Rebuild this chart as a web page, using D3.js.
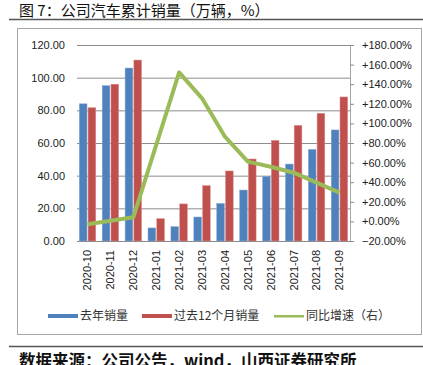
<!DOCTYPE html>
<html>
<head>
<meta charset="utf-8">
<script src="https://cdn.jsdelivr.net/npm/d3@7"></script>
<style>
  body { margin: 0; background: #fff; }
  svg { display: block; font-family: "Liberation Sans", Arial, sans-serif; }
  .cjk { font-family: "Noto Sans CJK SC", sans-serif; }
</style>
</head>
<body>
<div id="chart"></div>
<script>
// months on the x axis
const months = ["2020-10","2020-11","2020-12","2021-01","2021-02","2021-03",
                "2021-04","2021-05","2021-06","2021-07","2021-08","2021-09"];
// 去年销量 (万辆)
const lastYear = [84, 95.1, 105.9, 8, 8.8, 14.7, 23, 31.2, 39.6, 47.1, 56.1, 68];
// 过去12个月销量 (万辆)
const past12 = [81.6, 96, 110.8, 13.7, 22.7, 33.9, 42.9, 50.2, 61.6, 70.8, 78.2, 88.2];
// 同比增速 (%)
const growth = [-3, 0.7, 4.2, 78, 152, 125.6, 86.4, 61, 55.8, 49.7, 39.5, 29.3];

const leftTicks = [0, 20, 40, 60, 80, 100, 120];
const rightTicks = [-20, 0, 20, 40, 60, 80, 100, 120, 140, 160, 180];

const width = 423, height = 365;
const plot = {left: 77, right: 350, top: 45, bottom: 241};

const svg = d3.select("#chart")
  .append("svg")
    .attr("width", width)
    .attr("height", height);

// title + rules + frame
svg.append("text")
  .attr("class", "cjk")
  .attr("x", 19)
  .attr("y", 15.5)
  .attr("font-size", 15)
  .attr("fill", "#111")
  .text("图 7：公司汽车累计销量（万辆，%）");

svg.append("line")
  .attr("x1", 9).attr("x2", width)
  .attr("y1", 19.5).attr("y2", 19.5)
  .attr("stroke", "#555").attr("stroke-width", 1.5);

svg.append("rect")
  .attr("x", 17.5).attr("y", 28.5)
  .attr("width", 404).attr("height", 306)
  .attr("fill", "none")
  .attr("stroke", "#a6a6a6");

svg.append("line")
  .attr("x1", 9).attr("x2", width)
  .attr("y1", 346.5).attr("y2", 346.5)
  .attr("stroke", "#555").attr("stroke-width", 1.5);

svg.append("text")
  .attr("class", "cjk")
  .attr("x", 19)
  .attr("y", 367)
  .attr("font-size", 16.5)
  .attr("font-weight", "bold")
  .attr("fill", "#111")
  .text("数据来源：公司公告，wind，山西证券研究所");

// scales
const x0 = d3.scaleBand()
  .domain(months)
  .range([plot.left, plot.right])
  .paddingInner(0.28)
  .paddingOuter(0.1);

const x1 = d3.scaleBand()
  .domain(["lastYear", "past12"])
  .range([0, x0.bandwidth()])
  .paddingInner(0.12);

const yL = d3.scaleLinear().domain([0, 120]).range([plot.bottom, plot.top]);
const yR = d3.scaleLinear().domain([-20, 180]).range([plot.bottom, plot.top]);

// gridlines + left axis
const leftAxis = svg.append("g")
  .attr("transform", `translate(${plot.left},0)`)
  .call(d3.axisLeft(yL)
    .tickValues(leftTicks)
    .tickFormat(d3.format(".2f"))
    .tickSize(-(plot.right - plot.left))
    .tickPadding(12));
leftAxis.select(".domain").remove();
leftAxis.selectAll(".tick line").attr("stroke", "#8c8c8c");
leftAxis.selectAll(".tick text")
  .attr("font-size", 11)
  .attr("fill", "#222");

// right axis
const rightAxis = svg.append("g")
  .attr("transform", `translate(${plot.right},0)`)
  .call(d3.axisRight(yR)
    .tickValues(rightTicks)
    .tickFormat(d => (d >= 0 ? "+" : "") + d3.format(".2f")(d) + "%")
    .tickSize(4)
    .tickSizeOuter(0)
    .tickPadding(8));
rightAxis.select(".domain").attr("stroke", "#a6a6a6");
rightAxis.selectAll(".tick line").attr("stroke", "#8c8c8c");
rightAxis.selectAll(".tick text")
  .attr("font-size", 11)
  .attr("fill", "#222");

// bars
const groups = svg.append("g")
  .selectAll("g")
  .data(months)
  .enter()
  .append("g")
    .attr("transform", d => `translate(${x0(d)},0)`);

groups.append("rect")
  .attr("x", x1("lastYear"))
  .attr("y", (d, i) => yL(lastYear[i]))
  .attr("width", x1.bandwidth())
  .attr("height", (d, i) => yL(0) - yL(lastYear[i]))
  .attr("fill", "#4f81bd")
  .attr("stroke", "#8eaad6")
  .attr("stroke-width", 0.5);

groups.append("rect")
  .attr("x", x1("past12"))
  .attr("y", (d, i) => yL(past12[i]))
  .attr("width", x1.bandwidth())
  .attr("height", (d, i) => yL(0) - yL(past12[i]))
  .attr("fill", "#c0504d")
  .attr("stroke", "#dc9593")
  .attr("stroke-width", 0.5);

// bottom axis
const bottomAxis = svg.append("g")
  .attr("transform", `translate(0,${plot.bottom})`)
  .call(d3.axisBottom(x0).tickSize(0).tickSizeOuter(0).tickPadding(0));
bottomAxis.select(".domain").attr("stroke", "#8c8c8c");
bottomAxis.selectAll(".tick text")
  .attr("font-size", 11)
  .attr("fill", "#222")
  .attr("transform", "rotate(-90)")
  .attr("text-anchor", "end")
  .attr("dx", "-9")
  .attr("dy", "0.35em")
  .attr("y", 0);

// growth line
const line = d3.line()
  .x((d, i) => x0(months[i]) + x0.bandwidth() / 2)
  .y(d => yR(d));

svg.append("path")
  .datum(growth)
  .attr("d", line)
  .attr("fill", "none")
  .attr("stroke", "#9bbb59")
  .attr("stroke-width", 4)
  .attr("stroke-linejoin", "round");

// legend
const legendItems = [
  {label: "去年销量", color: "#4f81bd", x: 48, type: "bar"},
  {label: "过去12个月销量", color: "#c0504d", x: 142, type: "bar"},
  {label: "同比增速（右）", color: "#9bbb59", x: 274, type: "line"}
];
const legend = svg.append("g").attr("class", "cjk");
legend.selectAll("rect")
  .data(legendItems)
  .enter()
  .append("rect")
    .attr("x", d => d.x)
    .attr("y", d => d.type === "bar" ? 314 : 315)
    .attr("width", 30)
    .attr("height", d => d.type === "bar" ? 4 : 2.5)
    .attr("fill", d => d.color);
legend.selectAll("text")
  .data(legendItems)
  .enter()
  .append("text")
    .attr("x", d => d.x + 32)
    .attr("y", 320)
    .attr("font-size", 12)
    .attr("fill", "#333")
    .text(d => d.label);
</script>
</body>
</html>
